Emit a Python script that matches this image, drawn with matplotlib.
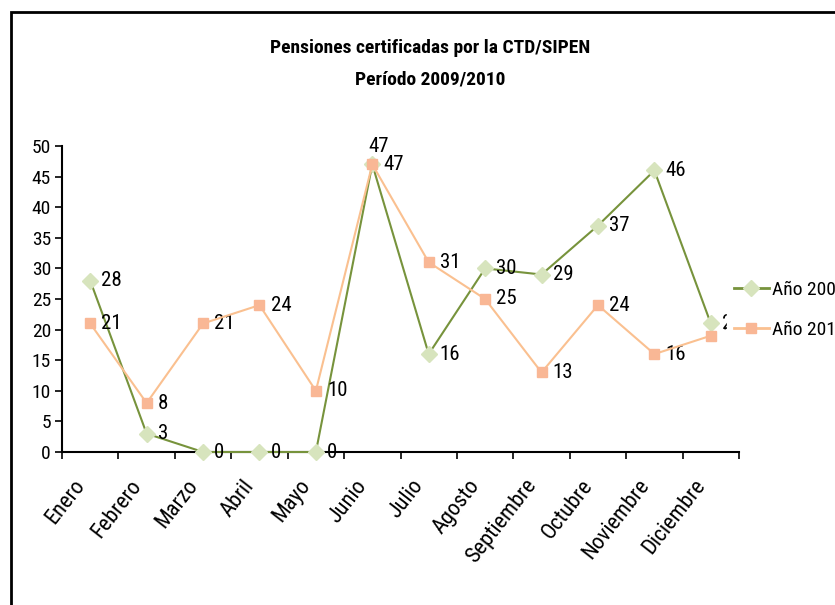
import matplotlib
matplotlib.use('Agg')
import matplotlib.pyplot as plt
import matplotlib.transforms as mtransforms
from matplotlib.patches import Rectangle
from matplotlib.lines import Line2D

months = ['Enero', 'Febrero', 'Marzo', 'Abril', 'Mayo', 'Junio', 'Julio',
          'Agosto', 'Septiembre', 'Octubre', 'Noviembre', 'Diciembre']
y2009 = [28, 3, 0, 0, 0, 47, 16, 30, 29, 37, 46, 21]
y2010 = [21, 8, 21, 24, 10, 47, 31, 25, 13, 24, 16, 19]
series_names = ['Año 2009', 'Año 2010']

plt.rcParams['font.family'] = ['Roboto Condensed', 'Liberation Sans', 'DejaVu Sans']

green_line, green_mark = '#77933C', '#D7E4BD'
orange_line, orange_mark = '#FAC090', '#F9B795'

fig = plt.figure(figsize=(8.35, 6.05), dpi=100)
ax = fig.add_axes([62 / 835, 1 - 452 / 605, 677 / 835, 306 / 605])

x = [i + 0.5 for i in range(len(months))]
ax.plot(x, y2009, color=green_line, lw=1.5, marker='D', ms=8,
        mfc=green_mark, mec=green_mark, zorder=3, clip_on=False)
ax.plot(x, y2010, color=orange_line, lw=1.5, marker='s', ms=7.5,
        mfc=orange_mark, mec=orange_mark, zorder=4, clip_on=False)

lbl = dict(fontsize=15, va='center', ha='left', textcoords='offset points',
           annotation_clip=False)
for i, v in enumerate(y2009):
    if months[i] == 'Junio':
        ax.annotate(str(v), (x[i], v), xytext=(-3, 13), **lbl)
    else:
        ax.annotate(str(v), (x[i], v), xytext=(8, 0), **lbl)
for i, v in enumerate(y2010):
    ax.annotate(str(v), (x[i], v), xytext=(8, 0), **lbl)

ax.set_xlim(0, len(months))
ax.set_ylim(0, 50)
ax.set_yticks(range(0, 51, 5))
ax.set_xticks(range(len(months) + 1))
ax.set_xticklabels([])

# month names, rotated like the excel category axis
lab_tr = mtransforms.offset_copy(ax.get_xaxis_transform(), fig=fig,
                                 x=-9, y=-30, units='dots')
for xi, m in zip(x, months):
    ax.text(xi, 0, m, transform=lab_tr, rotation=52, ha='right', va='center',
            rotation_mode='anchor', fontsize=16, clip_on=False)

ax.tick_params(axis='both', which='major', length=5, width=1.2,
               direction='out', labelsize=14, color='black', pad=3)
for s in ['top', 'right']:
    ax.spines[s].set_visible(False)
for s in ['left', 'bottom']:
    ax.spines[s].set_linewidth(1.5)

fig.text(430 / 835, 1 - 48 / 605, 'Pensiones certificadas por la CTD/SIPEN',
         ha='center', va='center', fontsize=14, fontweight='bold')
fig.text(430 / 835, 1 - 80 / 605, 'Período 2009/2010',
         ha='center', va='center', fontsize=14, fontweight='bold')

handles = [
    Line2D([], [], color=green_line, lw=2, marker='D', ms=8,
           mfc=green_mark, mec=green_mark),
    Line2D([], [], color=orange_line, lw=2, marker='s', ms=7.5,
           mfc=orange_mark, mec=orange_mark),
]
leg = fig.legend(handles, series_names, loc='upper left',
                 bbox_to_anchor=(727 / 835, 1 - 274 / 605), frameon=True,
                 fontsize=14, handlelength=1.8, labelspacing=1.15,
                 borderpad=0.35, handletextpad=0.15, borderaxespad=0)
leg.get_frame().set_facecolor('white')
leg.get_frame().set_edgecolor('white')
leg.get_frame().set_alpha(1)
leg.get_frame().set_boxstyle('square', pad=0)

fig.patches.append(Rectangle((11 / 835, -0.05), 1.2, 1 - 12 / 605 + 0.05,
                             transform=fig.transFigure, fill=False,
                             edgecolor='black', lw=2))

fig.savefig('out.png', dpi=100)
